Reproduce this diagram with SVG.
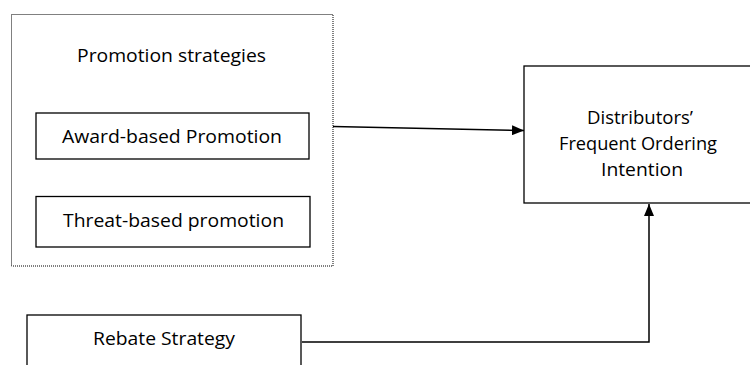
<svg xmlns="http://www.w3.org/2000/svg" width="750" height="365" viewBox="0 0 750 365">
<style>
.box{fill:#fff;stroke:#000;stroke-width:1.3}
.dot{fill:none;stroke:#000;stroke-width:1;stroke-dasharray:1,1}
.t{font-family:"Open Sans","Liberation Sans",sans-serif;font-size:19px;fill:#000;text-anchor:middle}
.c{fill:none;stroke:#000;stroke-width:1.5}
</style>
<defs>
<marker id="ah" viewBox="0 0 12 10" refX="12" refY="5" markerWidth="12" markerHeight="10" markerUnits="userSpaceOnUse" orient="auto">
<path d="M0,0 L12,5 L0,10 Z" fill="#000"/>
</marker>
</defs>
<rect width="750" height="365" fill="#fff"/>
<g id="promotion-strategies">
<rect class="dot" x="11.5" y="14.5" width="321.5" height="251.5"/>
<text class="t" x="171.5" y="62" textLength="189" lengthAdjust="spacingAndGlyphs">Promotion strategies</text>
</g>
<g id="award-based">
<rect class="box" x="36" y="113" width="273" height="46"/>
<text class="t" x="172" y="143" textLength="220" lengthAdjust="spacingAndGlyphs">Award-based Promotion</text>
</g>
<g id="threat-based">
<rect class="box" x="36" y="196.5" width="274" height="50.5"/>
<text class="t" x="173.5" y="227" textLength="221" lengthAdjust="spacingAndGlyphs">Threat-based promotion</text>
</g>
<g id="intention">
<rect class="box" x="524" y="66" width="240" height="137"/>
<text class="t" x="640" y="124" textLength="106" lengthAdjust="spacingAndGlyphs">Distributors’</text>
<text class="t" x="638" y="150" textLength="158" lengthAdjust="spacingAndGlyphs">Frequent Ordering</text>
<text class="t" x="642" y="176" textLength="82" lengthAdjust="spacingAndGlyphs">Intention</text>
</g>
<g id="rebate">
<rect class="box" x="27" y="315" width="274" height="60"/>
<text class="t" x="164" y="345" textLength="142" lengthAdjust="spacingAndGlyphs">Rebate Strategy</text>
</g>
<g id="connectors">
<path class="c" d="M333,126.5 L524,130.5" marker-end="url(#ah)"/>
<path class="c" d="M302,342 L649,342 L649,204" marker-end="url(#ah)"/>
</g>
</svg>
